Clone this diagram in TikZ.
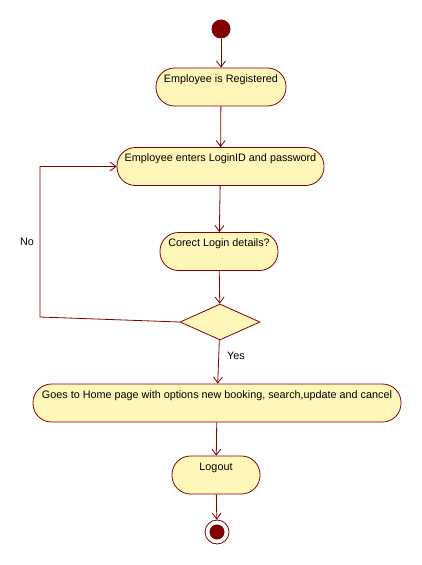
\documentclass[tikz,border=0pt]{standalone}
\usepackage{fontspec}
\setmainfont{Liberation Sans}
\usetikzlibrary{positioning, shapes.geometric, arrows.meta}

\definecolor{umlred}{RGB}{128,0,0}
\definecolor{umlfill}{RGB}{255,247,186}

\begin{document}
\begin{tikzpicture}[x=1pt, y=-1pt, line width=0.8pt,
    activity/.style={draw=umlred, fill=umlfill, rounded corners=18.5pt,
        minimum height=0pt, inner xsep=0pt, inner ysep=5pt,
        text height=9pt, text depth=19pt,
        font=\fontsize{10.8}{12}\selectfont},
    decision/.style={draw=umlred, fill=umlfill, diamond, inner sep=0pt,
        minimum width=80pt, minimum height=36pt},
    flow/.style={draw=umlred, -{Straight Barb[length=6pt, width=9pt]}},
    guard/.style={font=\fontsize{10.8}{12}\selectfont}]
    \useasboundingbox (0,0) rectangle (422,565);

    % start and end states
    \node[circle, fill=umlred, minimum size=19pt, inner sep=0pt] (start) at (221,29) {};
    \node[circle, draw=umlred, fill=white, minimum size=24pt, inner sep=0pt] (stop) at (217,532) {};
    \fill[umlred] (stop.center) circle (7.5pt);

    % activities
    \node[activity, minimum width=130pt] (registered) at (221,87) {Employee is Registered};
    \node[activity, minimum width=207pt] (login) at (220.5,166.5) {Employee enters LoginID and password};
    \node[activity, minimum width=118pt] (details) at (219,251.5) {Corect Login details?};
    \node[decision] (check) at (220,322) {};
    \node[activity, minimum width=368pt] (home) at (217,403) {Goes to Home page with options new booking, search,update and cancel};
    \node[activity, minimum width=88pt] (logout) at (216,475) {Logout};

    % guards
    \node[guard] (no) at (27,242) {No};
    \node[guard] (yes) at (236,356) {Yes};

    % flows
    \draw[flow] (start) -- (registered);
    \draw[flow] (registered) -- (login);
    \draw[flow] (login) -- (details);
    \draw[flow] (details) -- (check);
    \draw[flow] (check) -- (home);
    \draw[flow] (home) -- (logout);
    \draw[flow] (logout) -- (stop);

    % loop back when login fails
    \coordinate (corner) at (40,317);
    \draw[flow] (check.west) -- (corner) |- (login.west);
\end{tikzpicture}
\end{document}
